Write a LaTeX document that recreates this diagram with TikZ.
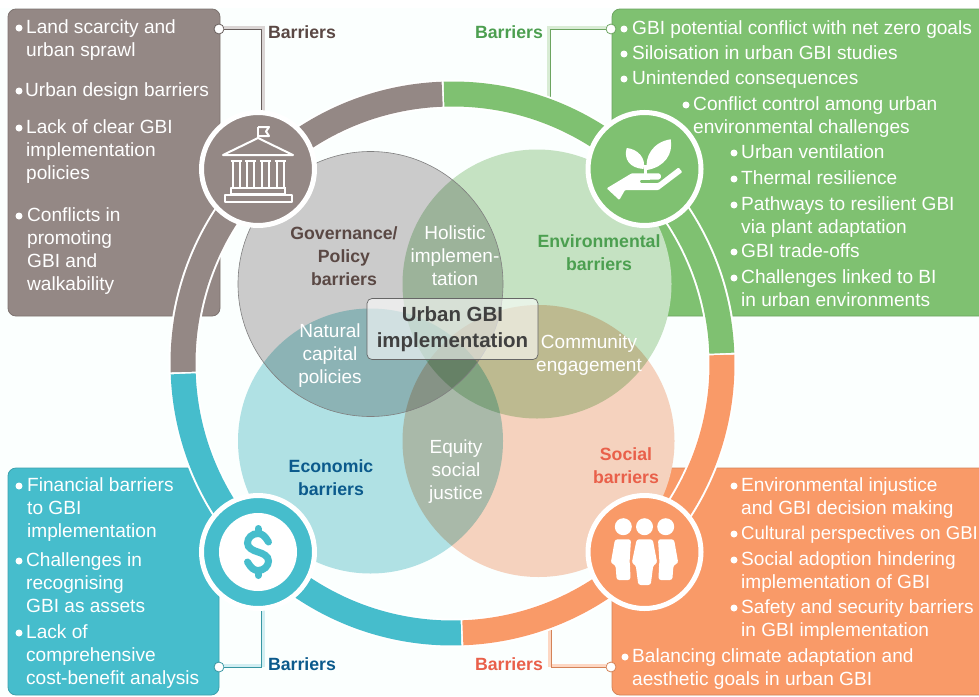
\documentclass[tikz,border=0pt]{standalone}
\usepackage{fontspec}
\setmainfont{Liberation Sans}
\usetikzlibrary{positioning,calc}

\definecolor{govcol}{HTML}{948885}
\definecolor{envcol}{HTML}{7FC171}
\definecolor{ecocol}{HTML}{46BDCC}
\definecolor{soccol}{HTML}{F99A68}
\definecolor{govtext}{HTML}{5A4844}
\definecolor{envtext}{HTML}{4C9F50}
\definecolor{ecotext}{HTML}{0B5A8C}
\definecolor{soctext}{HTML}{E9604A}
\definecolor{paper}{HTML}{FBFFFE}

\tikzset{
panel/.style={rectangle, rounded corners=8, inner sep=0, line width=0.8},
dot/.style={circle, fill=white, inner sep=0, minimum size=7},
item/.style={anchor=north west, inner sep=0, align=left, text=white, font=\fontsize{19.1}{23}\selectfont},
venn/.style={blend mode=multiply},
inner/.style={align=center, text=white, inner sep=0, font=\fontsize{19}{23}\selectfont},
head/.style={align=center, inner sep=0, font=\bfseries\fontsize{17.7}{23}\selectfont},
barlabel/.style={inner sep=0, font=\bfseries\fontsize{17.7}{21}\selectfont},
ring/.style={line width=25},
icon/.style={circle, draw=white, line width=5, inner sep=0, minimum size=113},
link/.style={circle, draw, fill=white, line width=0.8, inner sep=0, minimum size=10},
}

\newcommand{\baritem}[5]{
\node [dot] (#1) at (#2,-#4-1) {};
\node [item] (#1t) at (#3,{-#4+9.5}) {\strut #5};
}

\begin{document}
\begin{tikzpicture}[x=1pt, y=1pt]
\useasboundingbox (0,0) rectangle (979,-696);
\fill [paper] (0,-8) rectangle (979,-696);

\node [panel, fill=govcol, draw=govcol!85!black, minimum width=212, minimum height=307] (panelgov) at (114,-162.5) {};
\node [panel, fill=envcol, draw=envcol!85!black, minimum width=380, minimum height=307] (panelenv) at (802,-162.5) {};
\node [panel, fill=ecocol, draw=ecocol!85!black, minimum width=211, minimum height=227] (paneleco) at (113.5,-581.5) {};
\node [panel, fill=soccol, draw=soccol!85!black, minimum width=380, minimum height=227] (panelsoc) at (802,-581.5) {};

\node [link, draw=govcol!70!black] (dotgov) at (219,-29) {};
\node [link, draw=envcol!85!black] (dotenv) at (611,-29) {};
\node [link, draw=ecocol!80!black] (doteco) at (219,-667) {};
\node [link, draw=soccol!85!black] (dotsoc) at (611,-667) {};
\coordinate (endgov) at (261,-112);
\coordinate (endenv) at (550.5,-97);
\coordinate (endeco) at (261,-610);
\coordinate (endsoc) at (551.5,-630);

\draw [line width=3, govcol!35] ([shift={(0,2)}]dotgov.east) -| ([xshift=2]endgov);
\draw [line width=3, envcol!30] ([shift={(0,2)}]dotenv.west) -| ([xshift=-2]endenv);
\draw [line width=3, ecocol!25] ([shift={(0,2)}]doteco.east) -| ([xshift=2]endeco);
\draw [line width=3, soccol!40] ([shift={(0,2)}]dotsoc.west) -| ([xshift=-2]endsoc);
\draw [line width=1, govcol!70!black] (dotgov) -| (endgov);
\draw [line width=1, envcol!85!black] (dotenv) -| (endenv);
\draw [line width=1, ecocol!80!black] (doteco) -| (endeco);
\draw [line width=1, soccol!85!black] (dotsoc) -| (endsoc);

\coordinate (mid) at (452.5,-363.5);
\draw [line width=29, white] (mid) circle (269.5);
\draw [ring, envcol] (mid) ++(2.2:269.5) arc (2.2:91.8:269.5);
\draw [ring, govcol] (mid) ++(92.2:269.5) arc (92.2:181.8:269.5);
\draw [ring, ecocol] (mid) ++(182.2:269.5) arc (182.2:271.8:269.5);
\draw [ring, soccol] (mid) ++(272.2:269.5) arc (272.2:361.8:269.5);

\begin{scope}[transparency group, blend mode=normal]
\fill [venn, fill={rgb,255:red,203;green,203;blue,203}] (370.5,-284) circle (132.5);
\fill [venn, fill={rgb,255:red,197;green,226;blue,194}] (537,-284) circle (134.5);
\fill [venn, fill={rgb,255:red,176;green,225;blue,228}] (370.5,-441) circle (132.5);
\fill [venn, fill={rgb,255:red,245;green,210;blue,190}] (538.5,-441) circle (136);
\end{scope}
\draw [line width=0.6, black!50] (370.5,-284) circle (132.5);

\node [head, text=govtext] (govname) at (344,-256) {Governance/\\Policy\\barriers};
\node [head, text=envtext] (envname) at (599,-253) {Environmental\\barriers};
\node [head, text=ecotext] (econame) at (331,-478) {Economic\\barriers};
\node [head, text=soctext] (socname) at (626,-466) {Social\\barriers};
\node [inner] (holistic) at (455,-256) {Holistic\\implemen-\\tation};
\node [inner] (natural) at (330,-356) {Natural\\capital\\policies};
\node [inner] (community) at (589,-355) {Community\\engagement};
\node [inner] (equity) at (456,-472) {Equity\\social\\justice};

\node [rectangle, rounded corners=5, draw=black!60, line width=0.7, fill=white, fill opacity=0.6, text opacity=1, text=black!75, align=center, inner sep=0, minimum width=171, minimum height=61, font=\bfseries\fontsize{20.5}{26}\selectfont] (urban) at (452.5,-329) {Urban GBI\\implementation};

\node [barlabel, text=govtext] (bargov) at (302,-32) {Barriers};
\node [barlabel, text=envtext] (barenv) at (509,-32) {Barriers};
\node [barlabel, text=ecotext] (bareco) at (302,-664) {Barriers};
\node [barlabel, text=soctext] (barsoc) at (509,-664) {Barriers};

\node [icon, fill=govcol] (icongov) at (258,-169) {};
\node [icon, fill=envcol] (iconenv) at (644.5,-169) {};
\node [icon, fill=ecocol] (iconeco) at (258,-552) {};
\node [icon, fill=soccol] (iconsoc) at (644.5,-552) {};

\begin{scope}[shift={(icongov.center)}, draw=white, line width=2, line join=round]
\draw (0,31) -- (0,42);
\draw (0,42) -- (11,42) -- (8,37.5) -- (11,33) -- (0,33);
\draw (-35,14) -- (0,31) -- (35,14) -- cycle;
\foreach \colx in {-22,-7.3,7.3,22} {
\draw ([shift={(\colx,0)}]-3.5,8) rectangle ([shift={(\colx,0)}]3.5,-19);
\draw ([shift={(\colx,0)}]-5.5,8.5) -- ([shift={(\colx,0)}]5.5,8.5);
\draw ([shift={(\colx,0)}]-5.5,-19) -- ([shift={(\colx,0)}]5.5,-19);
}
\draw (-27,-19) -- (27,-19) -- (27,-25) -- (-27,-25) -- cycle;
\draw (-33.5,-26) rectangle (34,-33);
\end{scope}

\begin{scope}[shift={(iconenv.center)}, fill=white]
\draw [white, line width=2.5] (1,4) -- (1,-5);
\fill (-1,0) .. controls (-15,1) and (-21,10) .. (-17.8,21) .. controls (-7,20) and (2,11) .. (-1,0) -- cycle;
\fill (2.5,-1) .. controls (0,12) and (8,27) .. (26.2,29.7) .. controls (29,15) and (20,2) .. (2.5,-1) -- cycle;
\fill [rounded corners=1] (-37.8,-19.3) -- (-12.8,-4.3) -- (15,-4.3) -- (17,-7.5) -- (15,-10.5) -- (-4.5,-11) -- (-4.5,-14) -- (13.8,-14) -- (34,1.5) -- (37.8,-3) -- (14,-21) -- (-19.5,-21) -- (-25.2,-31) -- cycle;
\end{scope}

\begin{scope}[shift={(iconeco.center)}]
\fill [white] (0,0) circle (39);
\draw [ecocol, line width=7, line cap=round] (10.5,10) .. controls (7,16) and (4,18.5) .. (0,18.5) .. controls (-6,18.5) and (-10.5,14) .. (-10.5,9) .. controls (-10.5,4) and (-5,1.5) .. (0,0) .. controls (5,-1.5) and (10.5,-4) .. (10.5,-9) .. controls (10.5,-14) and (6,-18.5) .. (0,-18.5) .. controls (-4,-18.5) and (-7,-16) .. (-10.5,-10);
\draw [ecocol, line width=7, line cap=round] (0,18.5) -- (0,23.5);
\draw [ecocol, line width=7, line cap=round] (0,-18.5) -- (0,-23.5);
\end{scope}

\begin{scope}[shift={(iconsoc.center)}, fill=white]
\fill (-21.2,25.3) circle (8.5);
\fill (0,25.3) circle (8.5);
\fill (21.2,25.3) circle (8.5);
\fill [rounded corners=2.5] (-7.8,12.7) -- (8.2,12.7) -- (12.8,-11.3) -- (8.8,-13) -- (6.2,-33) -- (-6.2,-33) -- (-8.8,-13) -- (-12.8,-11.3) -- cycle;
\fill [rounded corners=2.5] (-29.5,12.7) -- (-13.5,12.7) -- (-15,-11.3) -- (-14.5,-13) -- (-14,-28) -- (-27.8,-28) -- (-29,-13) -- (-33.8,-11.3) -- cycle;
\fill [rounded corners=2.5] (29.5,12.7) -- (13.5,12.7) -- (15,-11.3) -- (14.5,-13) -- (14,-28) -- (27.8,-28) -- (29,-13) -- (33.8,-11.3) -- cycle;
\end{scope}

\baritem{gova}{19}{26}{27}{Land scarcity and\\urban sprawl}
\baritem{govb}{19}{25}{90}{Urban design barriers}
\baritem{govc}{19}{26}{127}{Lack of clear GBI\\implementation\\policies}
\baritem{govd}{19}{27}{215}{Conflicts in\\promoting\\GBI and\\walkability}

\baritem{enva}{624}{632}{28}{GBI potential conflict with net zero goals}
\baritem{envb}{624}{632}{53}{Siloisation in urban GBI studies}
\baritem{envc}{624}{632}{78}{Unintended consequences}
\baritem{envd}{686}{693}{104}{Conflict control among urban\\environmental challenges}
\baritem{enve}{734}{741}{152}{Urban ventilation}
\baritem{envf}{734}{741}{178}{Thermal resilience}
\baritem{envg}{734}{741}{204}{Pathways to resilient GBI\\via plant adaptation}
\baritem{envh}{734}{741}{251}{GBI trade-offs}
\baritem{envi}{734}{741}{277}{Challenges linked to BI\\in urban environments}

\baritem{ecoa}{19}{27}{485}{Financial barriers\\to GBI\\implementation}
\baritem{ecob}{19}{26}{560}{Challenges in\\recognising\\GBI as assets}
\baritem{ecoc}{19}{26}{632}{Lack of\\comprehensive\\cost-benefit analysis}

\baritem{soca}{734}{741}{485}{Environmental injustice\\and GBI decision making}
\baritem{socb}{734}{741}{533}{\fontsize{18.6}{23}\selectfont Cultural perspectives on GBI}
\baritem{socc}{734}{741}{559}{Social adoption hindering\\implementation of GBI}
\baritem{socd}{734}{741}{607}{Safety and security barriers\\in GBI implementation}
\baritem{soce}{625}{632}{656}{Balancing climate adaptation and\\aesthetic goals in urban GBI}

\end{tikzpicture}
\end{document}
